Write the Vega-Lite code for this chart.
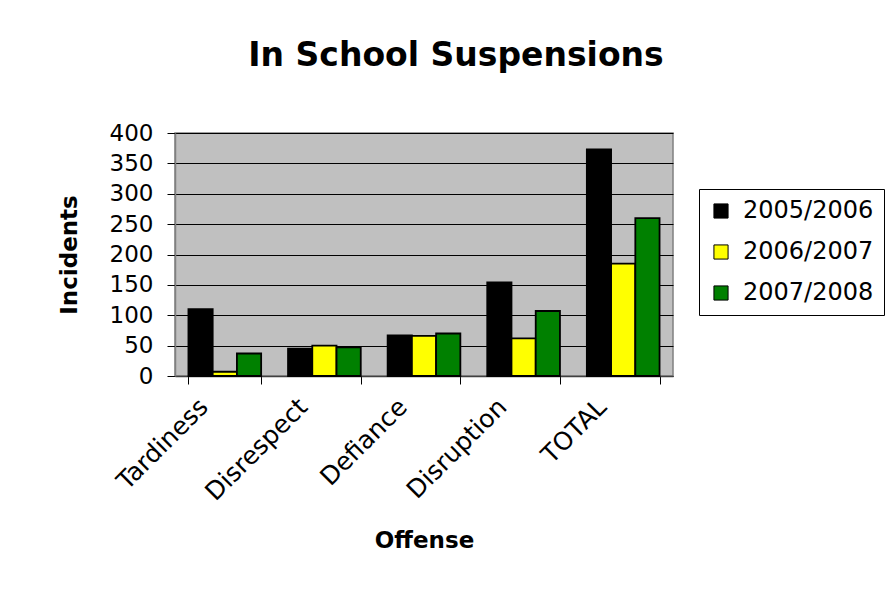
{
  "$schema": "https://vega.github.io/schema/vega-lite/v6.json",
  "width": 498,
  "height": 243,
  "padding": {"left": 58, "top": 40, "right": 10, "bottom": 10},
  "background": "white",
  "title": {
    "text": "In School Suspensions",
    "font": "DejaVu Sans",
    "fontSize": 33,
    "fontWeight": "bold",
    "color": "black",
    "anchor": "middle",
    "dx": 32,
    "offset": 49
  },
  "data": {
    "values": [
      {"offense": "Tardiness", "year": "2005/2006", "incidents": 110},
      {"offense": "Tardiness", "year": "2006/2007", "incidents": 7},
      {"offense": "Tardiness", "year": "2007/2008", "incidents": 37},
      {"offense": "Disrespect", "year": "2005/2006", "incidents": 45},
      {"offense": "Disrespect", "year": "2006/2007", "incidents": 50},
      {"offense": "Disrespect", "year": "2007/2008", "incidents": 47},
      {"offense": "Defiance", "year": "2005/2006", "incidents": 67},
      {"offense": "Defiance", "year": "2006/2007", "incidents": 66},
      {"offense": "Defiance", "year": "2007/2008", "incidents": 70},
      {"offense": "Disruption", "year": "2005/2006", "incidents": 154},
      {"offense": "Disruption", "year": "2006/2007", "incidents": 62},
      {"offense": "Disruption", "year": "2007/2008", "incidents": 107},
      {"offense": "TOTAL", "year": "2005/2006", "incidents": 373},
      {"offense": "TOTAL", "year": "2006/2007", "incidents": 185},
      {"offense": "TOTAL", "year": "2007/2008", "incidents": 260}
    ]
  },
  "mark": {"type": "bar", "stroke": "black", "strokeWidth": 1.8},
  "encoding": {
    "x": {
      "field": "offense",
      "type": "nominal",
      "sort": ["Tardiness", "Disrespect", "Defiance", "Disruption", "TOTAL"],
      "scale": {"paddingInner": 0.27, "paddingOuter": 0.135},
      "axis": {
        "title": "Offense",
        "titleFont": "DejaVu Sans",
        "titleFontSize": 23,
        "titleFontWeight": "bold",
        "titleColor": "black",
        "titlePadding": 24,
        "labelAngle": -45,
        "labelFont": "DejaVu Sans",
        "labelFontSize": 25,
        "labelColor": "black",
        "labelPadding": 10,
        "labelOffset": -30,
        "tickBand": "extent",
        "tickColor": "black",
        "tickSize": 8,
        "domainColor": "#404040",
        "domainWidth": 1.5
      }
    },
    "xOffset": {
      "field": "year",
      "type": "nominal",
      "scale": {"paddingInner": 0, "paddingOuter": 0}
    },
    "y": {
      "field": "incidents",
      "type": "quantitative",
      "scale": {"domain": [0, 400], "nice": false},
      "axis": {
        "title": "Incidents",
        "titleFont": "DejaVu Sans",
        "titleFontSize": 23,
        "titleFontWeight": "bold",
        "titleColor": "black",
        "titlePadding": 28,
        "values": [0, 50, 100, 150, 200, 250, 300, 350, 400],
        "labelFont": "DejaVu Sans",
        "labelFontSize": 23,
        "labelColor": "black",
        "labelPadding": 14,
        "tickColor": "black",
        "tickSize": 8,
        "gridColor": "black",
        "gridWidth": 1.2,
        "domainColor": "#808080",
        "domainWidth": 1.5
      }
    },
    "fill": {
      "field": "year",
      "type": "nominal",
      "scale": {
        "domain": ["2005/2006", "2006/2007", "2007/2008"],
        "range": ["#000000", "#ffff00", "#008000"]
      },
      "legend": {
        "title": null,
        "orient": "none",
        "legendX": 524,
        "legendY": 56,
        "fillColor": "white",
        "strokeColor": "black",
        "padding": 10,
        "symbolType": "square",
        "symbolSize": 200,
        "symbolStrokeColor": "black",
        "symbolStrokeWidth": 1,
        "labelFont": "DejaVu Sans",
        "labelFontSize": 24,
        "labelColor": "black",
        "rowPadding": 17,
        "labelOffset": 10
      }
    }
  },
  "config": {
    "view": {"fill": "#c0c0c0", "stroke": "#808080", "strokeWidth": 1.5},
    "axis": {"gridOpacity": 1}
  }
}
